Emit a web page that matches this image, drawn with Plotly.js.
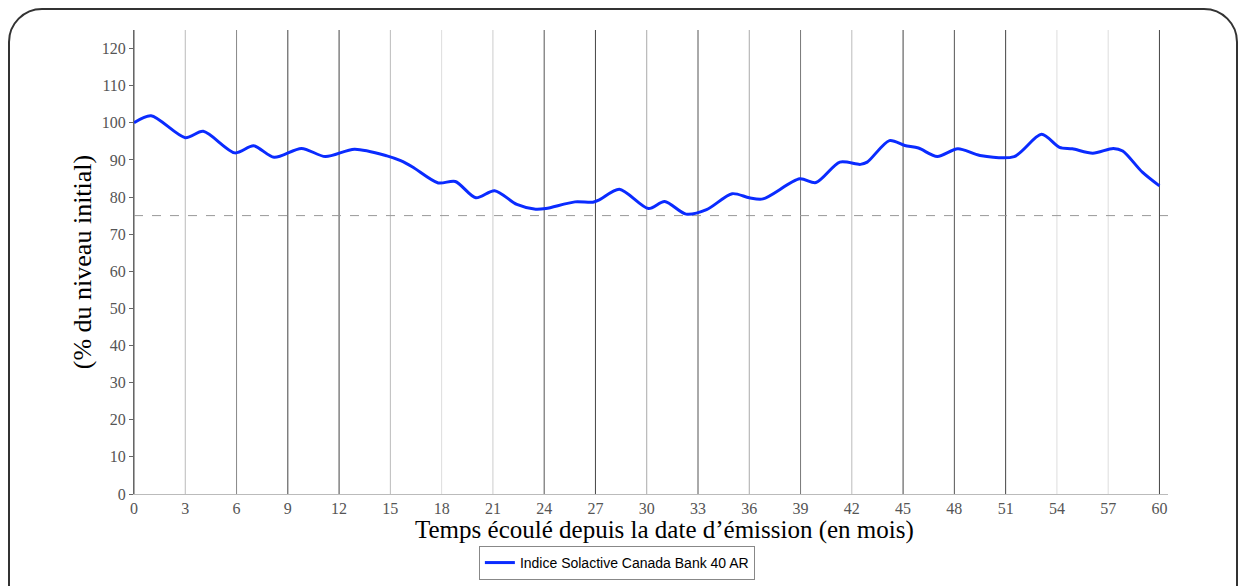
<!DOCTYPE html>
<html>
<head>
<meta charset="utf-8">
<script src="https://cdn.plot.ly/plotly-3.0.1.min.js"></script>
<style>
  html, body { margin: 0; padding: 0; background: #fff; overflow: hidden; }
  #chart { position: absolute; left: 0; top: 0; width: 1239px; height: 586px; }
  #frame {
    position: absolute; left: 8px; top: 8px; width: 1226px; height: 640px;
    border: 2px solid #333; border-radius: 34px; pointer-events: none;
  }
</style>
</head>
<body>
<div id="chart"></div>
<div id="frame"></div>
<script>
// months elapsed / index level (% of initial)
const months = [0, 1.0, 3.0, 4.05, 5.9, 7.0, 8.2, 9.8, 11.2, 12.9, 14.8, 15.6, 16.3, 17.8, 18.8,
    20.0, 21.1, 22.4, 23.5, 24.1, 25.8, 26.85, 27.25, 28.4, 30.1, 31.05, 32.3, 33.5, 35.0,
    36.0, 36.8, 38.95, 39.9, 41.3, 42.5, 42.9, 44.2, 45.1, 45.9, 47.0, 48.2, 49.5, 51.5,
    53.1, 54.15, 54.9, 56.1, 57.3, 57.85, 59.0, 60.0];
const levels = [100, 101.9, 96.0, 97.7, 91.9, 93.8, 90.7, 93.1, 90.9, 92.9, 91.1, 89.8, 88.1, 83.8, 84.2,
    79.8, 81.7, 78.0, 76.7, 76.9, 78.7, 78.6, 79.3, 82.1, 76.9, 78.8, 75.4, 76.6, 80.9,
    79.8, 79.5, 84.9, 83.9, 89.4, 88.8, 89.4, 95.2, 93.9, 93.2, 90.9, 93.0, 91.2, 90.9,
    96.9, 93.4, 93.0, 91.8, 93.1, 92.4, 86.7, 83.0];

const barrier = 75;

const xTicks = [0, 3, 6, 9, 12, 15, 18, 21, 24, 27, 30, 33, 36, 39, 42, 45, 48, 51, 54, 57, 60];
const gridShades = ["#555", "#bbb", "#888", "#444", "#444", "#bbb", "#ddd", "#ccc", "#555", "#444", "#aaa",
    "#555", "#aaa", "#777", "#bbb", "#444", "#555", "#444", "#ddd", "#ddd", "#444"];
const yTicks = [0, 10, 20, 30, 40, 50, 60, 70, 80, 90, 100, 110, 120];

const serif = "Liberation Serif, DejaVu Serif, serif";

// vertical grid lines, one shade per tick
let shapes = xTicks.map((m, i) => ({
    type: "line", xref: "x", yref: "paper",
    x0: m, x1: m, y0: 0, y1: 1,
    line: {color: gridShades[i], width: 1},
    layer: "below"
}));

// barrier line
shapes.push({
    type: "line", xref: "x", yref: "y",
    x0: 0, x1: 60.5, y0: barrier, y1: barrier,
    line: {color: "#999", width: 1, dash: "dash"},
    layer: "below"
});

const data = [{
    x: months,
    y: levels,
    mode: "lines",
    type: "scatter",
    name: "Indice Solactive Canada Bank 40 AR",
    line: {color: "#0a2bff", width: 3, shape: "spline", smoothing: 0.8}
}];

const layout = {
    width: 1239,
    height: 586,
    margin: {l: 134, r: 71, t: 30, b: 92, autoexpand: false},
    paper_bgcolor: "#fff",
    plot_bgcolor: "#fff",
    showlegend: true,
    legend: {
        x: 0.467, xanchor: "center",
        y: -0.112, yanchor: "top",
        orientation: "h",
        bordercolor: "#888", borderwidth: 1,
        font: {family: "Liberation Sans Narrow, Liberation Sans, sans-serif", size: 14, color: "#000"},
        itemwidth: 30,
        tracegroupgap: 0
    },
    // x title sits a little right of the plot centre in the original
    annotations: [{
        text: "Temps écoulé depuis la date d’émission (en mois)",
        xref: "paper", yref: "paper",
        x: 0.5135, y: -0.078, xanchor: "center", yanchor: "middle",
        showarrow: false,
        font: {family: serif, size: 25, color: "#000"}
    }],
    xaxis: {
        range: [0, 60.5],
        tickvals: xTicks,
        showgrid: false,
        zeroline: false,
        showline: true,
        linecolor: "#bbb",
        linewidth: 1,
        ticks: "",
        automargin: false,
        tickfont: {family: serif, size: 16, color: "#555"}
    },
    yaxis: {
        range: [0, 125],
        tickvals: yTicks,
        showgrid: false,
        zeroline: false,
        showline: true,
        linecolor: "#666",
        linewidth: 1,
        ticks: "outside",
        ticklen: 4,
        tickcolor: "#666",
        automargin: false,
        tickfont: {family: serif, size: 16, color: "#555"},
        title: {
            text: "(% du niveau initial)",
            font: {family: serif, size: 26, color: "#000"},
            standoff: 2
        }
    },
    shapes: shapes
};

Plotly.newPlot("chart", data, layout, {staticPlot: true});
</script>
</body>
</html>
